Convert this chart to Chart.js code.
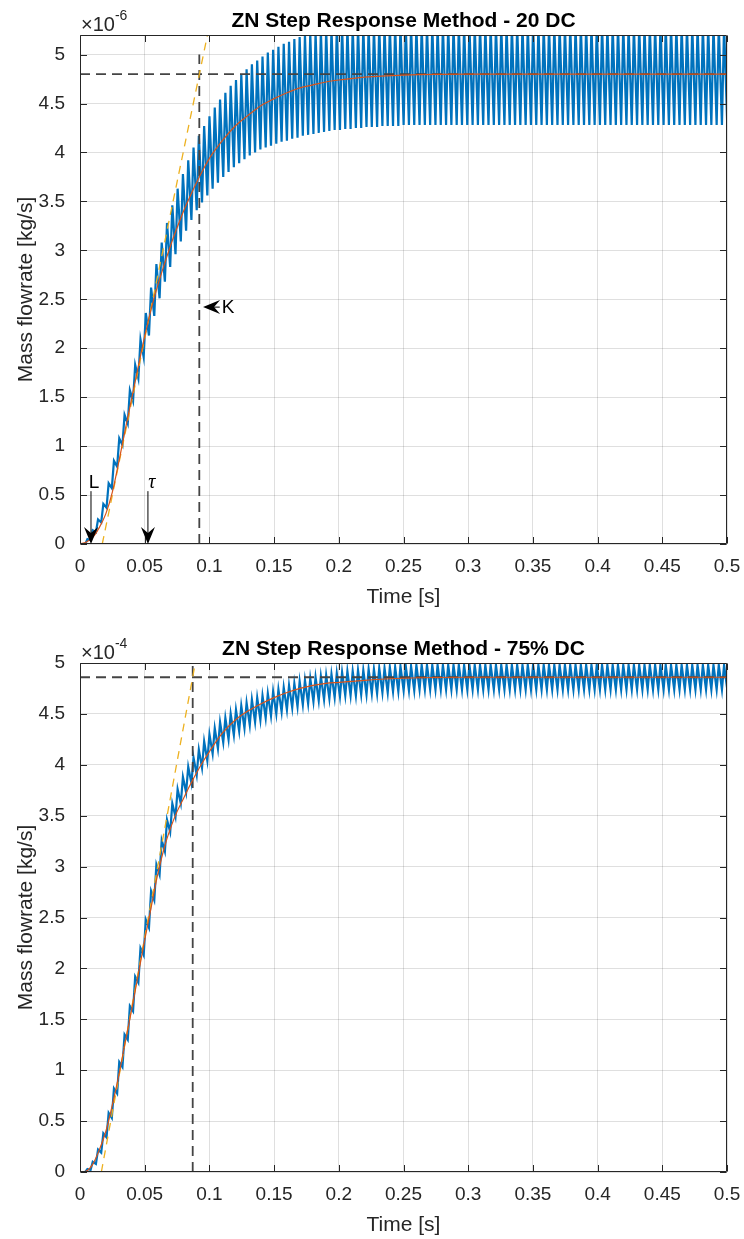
<!DOCTYPE html>
<html>
<head>
<meta charset="utf-8">
<title>ZN Step Response Method</title>
<script src="https://cdn.jsdelivr.net/npm/chart.js@4.4.1/dist/chart.umd.min.js"></script>
<style>
  html, body { margin: 0; background: #fff; overflow: hidden; }
  canvas { position: absolute; left: 0; }
  #dc20 { top: 0; }
  #dc75 { top: 628px; }
</style>
</head>
<body>
<canvas id="dc20" width="744" height="620"></canvas>
<canvas id="dc75" width="744" height="620"></canvas>
<script>
// PWM ripple period of the measured flow (s)
const pwmPeriod = 0.0041;

const xTicks = [0, 0.05, 0.1, 0.15, 0.2, 0.25, 0.3, 0.35, 0.4, 0.45, 0.5];
const yTicks = [0, 0.5, 1, 1.5, 2, 2.5, 3, 3.5, 4, 4.5, 5];

// first order + dead time fit, sampled on fitTime (flow in the axis' exponent units)
const fitTime = [0, 0.005, 0.010, 0.015, 0.020, 0.025, 0.030, 0.035, 0.040, 0.045,
  0.050, 0.055, 0.060, 0.065, 0.070, 0.075, 0.080, 0.085, 0.090, 0.095,
  0.100, 0.110, 0.120, 0.130, 0.140, 0.150, 0.160, 0.170, 0.180, 0.190,
  0.200, 0.220, 0.250, 0.300, 0.350, 0.400, 0.450, 0.500];
const fit20 = [0, 0.02, 0.07, 0.17, 0.31, 0.53, 0.84, 1.17, 1.49, 1.81,
  2.12, 2.40, 2.64, 2.85, 3.05, 3.23, 3.40, 3.55, 3.69, 3.82,
  3.94, 4.12, 4.27, 4.38, 4.48, 4.55, 4.61, 4.66, 4.69, 4.72,
  4.74, 4.77, 4.79, 4.80, 4.80, 4.80, 4.80, 4.80];
const fit75 = [0, 0.01, 0.08, 0.22, 0.40, 0.66, 0.95, 1.28, 1.60, 1.94,
  2.28, 2.60, 2.92, 3.18, 3.38, 3.54, 3.67, 3.80, 3.92, 4.03,
  4.13, 4.31, 4.44, 4.53, 4.60, 4.66, 4.71, 4.75, 4.78, 4.80,
  4.81, 4.83, 4.85, 4.86, 4.86, 4.86, 4.86, 4.86];

// measured flow, one peak and one trough per PWM cycle (x1e-6 kg/s)
const peak20 = [
  0.00, 0.05, 0.14, 0.25, 0.41, 0.62, 0.85, 1.08, 1.32, 1.57,
  1.83, 2.09, 2.36, 2.62, 2.86, 3.08, 3.28, 3.46, 3.63, 3.78,
  3.92, 4.05, 4.17, 4.27, 4.37, 4.46, 4.54, 4.61, 4.68, 4.74,
  4.80, 4.85, 4.90, 4.94, 4.98, 5.02, 5.05, 5.08, 5.11, 5.13,
  5.16, 5.18, 5.20, 5.22, 5.23, 5.25, 5.26, 5.27, 5.28, 5.28,
  5.29, 5.29, 5.29, 5.29, 5.29, 5.29, 5.30, 5.30, 5.30, 5.30,
  5.30, 5.30, 5.30, 5.30, 5.30, 5.30, 5.30, 5.30, 5.30, 5.30,
  5.30, 5.30, 5.30, 5.30, 5.30, 5.30, 5.30, 5.30, 5.30, 5.30,
  5.30, 5.30, 5.30, 5.30, 5.30, 5.30, 5.30, 5.30, 5.30, 5.30,
  5.30, 5.30, 5.30, 5.30, 5.30, 5.30, 5.30, 5.30, 5.30, 5.30,
  5.30, 5.30, 5.30, 5.30, 5.30, 5.30, 5.30, 5.30, 5.30, 5.30,
  5.30, 5.30, 5.30, 5.30, 5.30, 5.30, 5.30, 5.30, 5.30, 5.30,
  5.30, 5.30, 5.30];
const trough20 = [
  0.00, 0.00, 0.04, 0.12, 0.22, 0.37, 0.57, 0.79, 1.01, 1.23,
  1.46, 1.69, 1.91, 2.13, 2.33, 2.51, 2.68, 2.83, 2.96, 3.09,
  3.20, 3.31, 3.41, 3.49, 3.56, 3.63, 3.69, 3.75, 3.80, 3.85,
  3.89, 3.93, 3.97, 4.00, 4.03, 4.05, 4.07, 4.09, 4.11, 4.12,
  4.14, 4.15, 4.17, 4.18, 4.19, 4.20, 4.21, 4.22, 4.23, 4.23,
  4.24, 4.24, 4.25, 4.25, 4.26, 4.26, 4.26, 4.27, 4.27, 4.27,
  4.27, 4.28, 4.28, 4.28, 4.28, 4.28, 4.28, 4.28, 4.28, 4.28,
  4.28, 4.28, 4.28, 4.28, 4.28, 4.28, 4.28, 4.28, 4.28, 4.28,
  4.28, 4.28, 4.28, 4.28, 4.28, 4.28, 4.28, 4.28, 4.28, 4.28,
  4.28, 4.28, 4.28, 4.28, 4.28, 4.28, 4.28, 4.28, 4.28, 4.28,
  4.28, 4.28, 4.28, 4.28, 4.28, 4.28, 4.28, 4.28, 4.28, 4.28,
  4.28, 4.28, 4.28, 4.28, 4.28, 4.28, 4.28, 4.28, 4.28, 4.28,
  4.28, 4.28, 4.28];

// same for 75% duty cycle (x1e-4 kg/s)
const peak75 = [
  0.00, 0.03, 0.10, 0.22, 0.38, 0.58, 0.82, 1.08, 1.35, 1.63,
  1.92, 2.20, 2.48, 2.76, 3.02, 3.26, 3.46, 3.62, 3.76, 3.88,
  3.98, 4.07, 4.15, 4.23, 4.30, 4.36, 4.42, 4.46, 4.50, 4.54,
  4.58, 4.61, 4.64, 4.66, 4.68, 4.70, 4.72, 4.74, 4.76, 4.78,
  4.80, 4.82, 4.83, 4.85, 4.86, 4.87, 4.88, 4.89, 4.90, 4.91,
  4.92, 4.92, 4.93, 4.93, 4.94, 4.94, 4.95, 4.95, 4.96, 4.96,
  4.97, 4.97, 4.97, 4.98, 4.98, 4.98, 4.98, 4.98, 4.98, 4.98,
  4.98, 4.98, 4.98, 4.98, 4.98, 4.98, 4.98, 4.98, 4.98, 4.98,
  4.98, 4.98, 4.98, 4.98, 4.98, 4.98, 4.98, 4.98, 4.98, 4.98,
  4.98, 4.98, 4.98, 4.98, 4.98, 4.98, 4.98, 4.98, 4.98, 4.98,
  4.98, 4.98, 4.98, 4.98, 4.98, 4.98, 4.98, 4.98, 4.98, 4.98,
  4.98, 4.98, 4.98, 4.98, 4.98, 4.98, 4.98, 4.98, 4.98, 4.98,
  4.98, 4.98, 4.98];
const trough75 = [
  0.00, 0.00, 0.02, 0.08, 0.19, 0.34, 0.53, 0.77, 1.03, 1.30,
  1.58, 1.86, 2.13, 2.40, 2.67, 2.92, 3.15, 3.34, 3.49, 3.62,
  3.73, 3.82, 3.90, 3.97, 4.04, 4.11, 4.16, 4.22, 4.25, 4.29,
  4.33, 4.36, 4.39, 4.42, 4.44, 4.46, 4.48, 4.50, 4.52, 4.54,
  4.56, 4.57, 4.59, 4.60, 4.62, 4.63, 4.64, 4.65, 4.66, 4.67,
  4.68, 4.68, 4.68, 4.69, 4.69, 4.70, 4.70, 4.71, 4.71, 4.72,
  4.72, 4.73, 4.73, 4.73, 4.74, 4.74, 4.74, 4.74, 4.74, 4.74,
  4.74, 4.74, 4.74, 4.74, 4.74, 4.74, 4.74, 4.74, 4.74, 4.74,
  4.74, 4.74, 4.74, 4.74, 4.74, 4.74, 4.74, 4.74, 4.74, 4.74,
  4.74, 4.74, 4.74, 4.74, 4.74, 4.74, 4.74, 4.74, 4.74, 4.74,
  4.74, 4.74, 4.74, 4.74, 4.74, 4.74, 4.74, 4.74, 4.74, 4.74,
  4.74, 4.74, 4.74, 4.74, 4.74, 4.74, 4.74, 4.74, 4.74, 4.74,
  4.74, 4.74, 4.74];

// Ziegler-Nichols construction: gain K, tangent line, time where tangent meets K
const gain20 = 4.8, gain75 = 4.86;
const tK20 = 0.0922, tK75 = 0.0871;
const tangent20X = [0.0172, 0.0985], tangent20Y = [0, 5.2];
const tangent75X = [0.0165, 0.0891], tangent75Y = [0, 5.0];

// text arrows (data coords): tail -> tip
const notes20 = [
  { text: 'L', tail: [0.0085, 0.54], tip: [0.0085, 0] },
  { text: '\u03c4', tail: [0.0525, 0.54], tip: [0.0525, 0], italic: true },
  { text: 'K', tail: [0.108, 2.42], tip: [0.0951, 2.42] }
];

const FONT = '"Liberation Sans", Arial, Helvetica, sans-serif';
const AX = '#262626';

function pwmPoints(peaks, troughs) {
  const pts = [];
  peaks.forEach((p, k) => {
    const t0 = k * pwmPeriod;
    pts.push({ x: t0, y: troughs[k] }, { x: t0 + 0.4 * pwmPeriod, y: p });
  });
  return pts;
}
const zip = (xs, ys) => xs.map((x, i) => ({ x: x, y: ys[i] }));

function drawArrow(ctx, x0, y0, x1, y1) {
  const ang = Math.atan2(y1 - y0, x1 - x0);
  const len = 17, half = 7, notch = 11;
  ctx.beginPath();
  ctx.moveTo(x0, y0);
  ctx.lineTo(x1 - Math.cos(ang) * notch, y1 - Math.sin(ang) * notch);
  ctx.stroke();
  ctx.save();
  ctx.translate(x1, y1);
  ctx.rotate(ang);
  ctx.beginPath();
  ctx.moveTo(0, 0);
  ctx.lineTo(-len, -half);
  ctx.lineTo(-notch, 0);
  ctx.lineTo(-len, half);
  ctx.closePath();
  ctx.fill();
  ctx.restore();
}

// box, inward ticks, title, exponent and arrows in MATLAB style
const matlabAxes = {
  id: 'matlabAxes',
  afterDatasetsDraw(chart, args, opts) {
    const { ctx, chartArea: a } = chart;
    const sx = chart.scales.x, sy = chart.scales.y;
    const L = Math.round(a.left) + 0.5, R = Math.round(a.right) - 0.5;
    const T = Math.round(a.top) + 0.5, B = Math.round(a.bottom) - 0.5;
    const tl = 6.5;
    ctx.save();
    ctx.strokeStyle = AX;
    ctx.lineWidth = 1;
    ctx.beginPath();
    ctx.rect(L, T, R - L, B - T);
    sx.ticks.forEach(t => {
      const px = Math.round(sx.getPixelForValue(t.value)) + 0.5;
      ctx.moveTo(px, B); ctx.lineTo(px, B - tl);
      ctx.moveTo(px, T); ctx.lineTo(px, T + tl);
    });
    sy.ticks.forEach(t => {
      const py = Math.round(sy.getPixelForValue(t.value)) + 0.5;
      ctx.moveTo(L, py); ctx.lineTo(L + tl, py);
      ctx.moveTo(R, py); ctx.lineTo(R - tl, py);
    });
    ctx.stroke();

    // title
    ctx.fillStyle = '#000';
    ctx.font = 'bold 21px ' + FONT;
    ctx.textAlign = 'center';
    ctx.textBaseline = 'alphabetic';
    ctx.fillText(opts.title, (a.left + a.right) / 2, a.top - 8);

    // exponent label
    ctx.fillStyle = AX;
    ctx.textAlign = 'left';
    ctx.font = '20px ' + FONT;
    ctx.fillText('\u00d710', a.left + 1, a.top - 4.5);
    const w = ctx.measureText('\u00d710').width;
    ctx.font = '14px ' + FONT;
    ctx.fillText(opts.exponent, a.left + 1 + w, a.top - 15.5);

    // annotations
    ctx.strokeStyle = '#000';
    ctx.fillStyle = '#000';
    (opts.notes || []).forEach(n => {
      const x0 = sx.getPixelForValue(n.tail[0]), y0 = sy.getPixelForValue(n.tail[1]);
      const x1 = sx.getPixelForValue(n.tip[0]), y1 = sy.getPixelForValue(n.tip[1]);
      drawArrow(ctx, x0, y0, x1, y1);
      ctx.font = (n.italic ? 'italic 20px "Liberation Serif", serif' : '19px ' + FONT);
      if (Math.abs(x1 - x0) < 1) {
        ctx.textAlign = 'center';
        ctx.textBaseline = 'alphabetic';
        ctx.fillText(n.text, x0 + (n.italic ? 4 : 3), y0 - 3);
      } else {
        ctx.textAlign = 'left';
        ctx.textBaseline = 'middle';
        ctx.fillText(n.text, x0 + 2, y0 + 1);
      }
    });
    ctx.restore();
  }
};

function makeChart(id, cfg) {
  const line = (data, color, width, dash, order, extra) => Object.assign({
    data: data, borderColor: color, borderWidth: width, borderDash: dash || [],
    pointRadius: 0, fill: false, order: order
  }, extra || {});
  return new Chart(document.getElementById(id), {
    type: 'line',
    data: {
      datasets: [
        line(pwmPoints(cfg.peaks, cfg.troughs), '#0072BD', 2.2, null, 5),
        line([{ x: 0, y: cfg.gain }, { x: 0.5, y: cfg.gain }], '#444444', 1.8, [10, 6], 3),
        line([{ x: cfg.tK, y: 0 }, { x: cfg.tK, y: 5.0 }], '#444444', 1.8, [10, 6], 3),
        line(zip(cfg.tanX, cfg.tanY), '#EDB120', 1.3, [8, 6], 2),
        line(zip(fitTime, cfg.fit), '#D95319', 1.2, null, 1, { cubicInterpolationMode: 'monotone' })
      ]
    },
    options: {
      responsive: false,
      animation: false,
      devicePixelRatio: 1,
      layout: { padding: { top: 35, right: 17, left: 0, bottom: 0 } },
      plugins: {
        legend: { display: false },
        tooltip: { enabled: false },
        matlabAxes: { title: cfg.title, exponent: cfg.exponent, notes: cfg.notes }
      },
      scales: {
        x: {
          type: 'linear', min: 0, max: 0.5,
          afterBuildTicks: s => { s.ticks = xTicks.map(v => ({ value: v })); },
          afterFit: s => { s.height = 76; s.paddingLeft = 0; s.paddingRight = 0; },
          grid: { color: 'rgba(38,38,38,0.15)', lineWidth: 1, drawTicks: false },
          border: { display: false },
          ticks: { padding: 11, color: AX, font: { family: FONT, size: 19 }, maxRotation: 0,
                   autoSkip: false, callback: v => String(+v.toFixed(3)) },
          title: { display: true, text: 'Time [s]', color: AX, font: { family: FONT, size: 21 },
                   padding: { top: 0, bottom: 10 } }
        },
        y: {
          type: 'linear', min: 0, max: cfg.yMax,
          afterBuildTicks: s => { s.ticks = yTicks.map(v => ({ value: v })); },
          afterFit: s => { s.width = 80; s.paddingTop = 0; s.paddingBottom = 0; },
          grid: { color: 'rgba(38,38,38,0.15)', lineWidth: 1, drawTicks: false },
          border: { display: false },
          ticks: { padding: 15, color: AX, font: { family: FONT, size: 19 },
                   callback: v => String(+v.toFixed(3)) },
          title: { display: true, text: 'Mass flowrate [kg/s]', color: AX, font: { family: FONT, size: 21 },
                   padding: { top: 14, bottom: 0 } }
        }
      }
    },
    plugins: [matlabAxes]
  });
}

makeChart('dc20', {
  title: 'ZN Step Response Method - 20 DC', exponent: '-6', yMax: 5.2,
  peaks: peak20, troughs: trough20, fit: fit20, gain: gain20, tK: tK20,
  tanX: tangent20X, tanY: tangent20Y, notes: notes20
});
makeChart('dc75', {
  title: 'ZN Step Response Method - 75% DC', exponent: '-4', yMax: 5.0,
  peaks: peak75, troughs: trough75, fit: fit75, gain: gain75, tK: tK75,
  tanX: tangent75X, tanY: tangent75Y, notes: []
});
</script>
</body>
</html>
